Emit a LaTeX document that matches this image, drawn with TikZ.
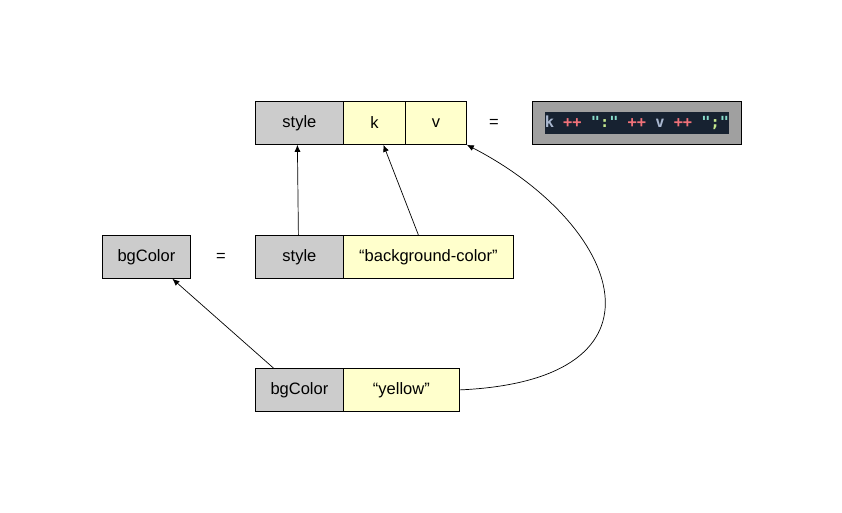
\documentclass[tikz,border=0pt]{standalone}
\usepackage{fontspec}
\setmainfont{Liberation Sans}
\newfontfamily\codefont{DejaVu Sans Mono}[BoldFont={DejaVu Sans Mono Bold}]
\usetikzlibrary{arrows.meta}
\definecolor{cgray}{HTML}{CCCCCC}
\definecolor{cyel}{HTML}{FFFFCC}
\definecolor{codebg}{HTML}{A0A0A0}
\definecolor{codedark}{HTML}{172231}
\definecolor{cid}{HTML}{A9B7CF}
\definecolor{cop}{HTML}{F07178}
\definecolor{cstr}{HTML}{89DDCC}
\definecolor{ccol}{HTML}{C3E88D}
\begin{document}
\begin{tikzpicture}[x=1pt,y=-1pt,
  cell/.style={draw=black, line width=0.8pt, inner sep=0pt, anchor=north west, font=\fontsize{16.5}{18}\selectfont},
  gcell/.style={cell, fill=cgray},
  ycell/.style={cell, fill=cyel},
  eqs/.style={font=\fontsize{16.5}{18}\selectfont},
  arr/.style={-{Latex[length=7pt,width=6pt]}, line width=0.7pt}]
\useasboundingbox (0,0) rectangle (842,513);
% top row
\node[gcell, minimum width=88pt, minimum height=43pt] (s1) at (255,101) {style};
\node[ycell, minimum width=62pt, minimum height=43pt] (k) at (343,101) {k};
\node[ycell, minimum width=61pt, minimum height=43pt] (v) at (405,101) {v};
\node[eqs] (eq1) at (494,123) {=};
\node[cell, fill=codebg, minimum width=209pt, minimum height=43pt] (code) at (532,101) {};
\node[fill=codedark, inner sep=0pt, minimum width=184pt, minimum height=22pt, font=\codefont\bfseries\fontsize{15.3}{16}\selectfont] (codetxt) at (code.center)
 {\textcolor{cid}{k} \textcolor{cop}{++} \textcolor{cstr}{"}\textcolor{ccol}{:}\textcolor{cstr}{"} \textcolor{cop}{++} \textcolor{cid}{v} \textcolor{cop}{++} \textcolor{cstr}{"}\textcolor{ccol}{;}\textcolor{cstr}{"}};
% middle row
\node[gcell, minimum width=88pt, minimum height=43pt] (bg1) at (102,235) {bgColor};
\node[eqs] (eq2) at (221,257) {=};
\node[gcell, minimum width=88pt, minimum height=43pt] (s2) at (255,235) {style};
\node[ycell, minimum width=170pt, minimum height=43pt] (bgc) at (343,235) {“background-color”};
% bottom row
\node[gcell, minimum width=88pt, minimum height=43pt] (bg2) at (255,368) {bgColor};
\node[ycell, minimum width=116pt, minimum height=43pt] (yel) at (343,368) {“yellow”};
% connectors
\draw[arr] ([xshift=-1pt]s2.north) -- ([xshift=-2pt]s1.south);
\draw[arr] ([xshift=-10pt]bgc.north) -- ([xshift=9pt]k.south);
\draw[arr] ([xshift=-26pt]bg2.north) -- ([xshift=26pt]bg1.south);
\draw[arr] (yel.east) .. controls (680,380) and (622,225) .. (v.south east);
\end{tikzpicture}
\end{document}
